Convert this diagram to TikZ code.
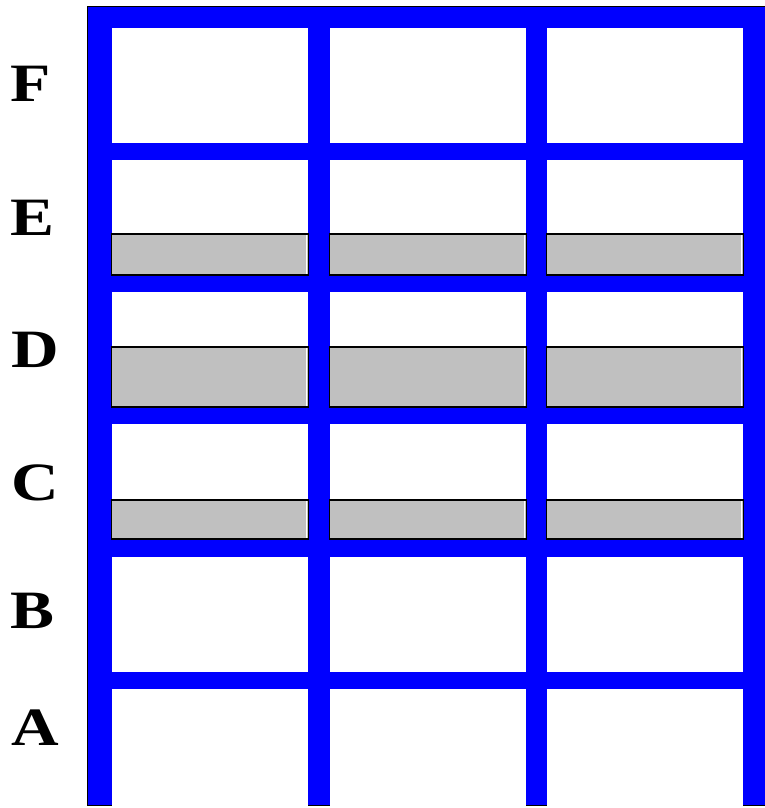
\documentclass[tikz,border=0pt]{standalone}
\usepackage{fontspec}
\setmainfont{Liberation Serif}
\definecolor{frameblue}{HTML}{0000FF}
\definecolor{slabgray}{HTML}{C0C0C0}
\newcommand{\widelabel}[1]{\scalebox{1.22}[1]{#1}}
\tikzset{
  rowlabel/.style={anchor=west, inner sep=0pt, font=\fontsize{54}{54}\selectfont\bfseries},
  cell/.style={fill=white},
  slab/.style={fill=slabgray, draw=black, line width=1.2pt},
}
\begin{document}
\begin{tikzpicture}[x=1pt,y=-1pt]
\useasboundingbox (0,0) rectangle (765,808);
% blue frame
\fill[frameblue] (87,6) rectangle (765,805);
\draw[black, line width=0.8pt] (87,805.5) -- (87,6) -- (765,6);
\draw[black, line width=0.8pt] (87,805.5) -- (112,805.5);
\draw[black, line width=0.8pt] (308,805.5) -- (330,805.5);
\draw[black, line width=0.8pt] (526,805.5) -- (547,805.5);
\draw[black, line width=0.8pt] (743,805.5) -- (765,805.5);
% white cells
\foreach \xa/\xb in {112/308, 330/526, 547/743}{
  \foreach \ya/\yb in {28/143, 160/275, 292/407, 424/539, 557/672, 689/805}{
    \fill[cell] (\xa,\ya) rectangle (\xb,\yb);
  }
}
% gray slabs
\foreach \xa/\xb in {111.5/308.5, 329.5/526.5, 546.5/743.5}{
  \foreach \ya/\yb in {234/275, 347/407, 500/539}{
    \draw[slab] (\xa,\ya) rectangle (\xb,\yb);
    \draw[white, line width=0.8pt] (\xb-2,\ya+1) -- (\xb-2,\yb-1);
  }
}
% row labels
\node[rowlabel] (lF) at (10,84) {\widelabel{F}};
\node[rowlabel] (lE) at (10,218) {\widelabel{E}};
\node[rowlabel] (lD) at (11,349.5) {\widelabel{D}};
\node[rowlabel] (lC) at (11,483) {\widelabel{C}};
\node[rowlabel] (lB) at (10,611) {\widelabel{B}};
\node[rowlabel] (lA) at (11,728) {\widelabel{A}};
\end{tikzpicture}
\end{document}
